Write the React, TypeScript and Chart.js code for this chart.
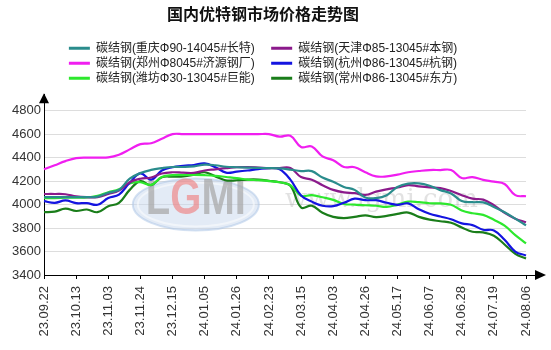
import { useEffect, useRef } from 'react';
import { Chart, registerables } from 'chart.js';

Chart.register(...registerables);

const FONT = '"Liberation Sans", "Noto Sans CJK SC", Arial, sans-serif';

const chartTitle = '国内优特钢市场价格走势图';

const tickLabels = [
  '23.09.22', '23.10.13', '23.11.03', '23.11.24', '23.12.15', '24.01.05', '24.01.26', '24.02.23',
  '24.03.15', '24.04.03', '24.04.26', '24.05.17', '24.06.07', '24.06.28', '24.07.19', '24.08.06',
];

// 46 samples: 3 per label interval
const categories = Array.from({ length: 46 }, (_, i) => (i % 3 === 0 ? tickLabels[i / 3] : ''));

const seriesNames = [
  '碳结钢(重庆Φ90-14045#长特)',
  '碳结钢(天津Φ85-13045#本钢)',
  '碳结钢(郑州Φ8045#济源钢厂)',
  '碳结钢(杭州Φ86-13045#杭钢)',
  '碳结钢(潍坊Φ30-13045#巨能)',
  '碳结钢(常州Φ86-13045#东方)',
];

const seriesColors = ['#2a8c8c', '#8b1a8b', '#f01ef0', '#1414e0', '#2de82d', '#1a7d1a'];

const chongqing = [
  4063, 4063, 4063, 4063, 4063, 4068, 4100, 4125, 4220, 4268, 4295, 4310, 4320, 4320, 4325, 4340,
  4335, 4322, 4318, 4315, 4312, 4311, 4308, 4298, 4285, 4285, 4230, 4195, 4150, 4125, 4060, 4055,
  4080, 4150, 4178, 4180, 4160, 4123, 4095, 4030, 4020, 4018, 3980, 3935, 3880, 3823,
];

const tianjin = [
  4090, 4090, 4088, 4070, 4063, 4063, 4090, 4120, 4190, 4220, 4230, 4265, 4275, 4272, 4270, 4290,
  4300, 4310, 4318, 4318, 4315, 4311, 4311, 4311, 4234, 4212, 4165, 4125, 4104, 4097, 4082, 4110,
  4130, 4145, 4166, 4155, 4146, 4140, 4115, 4080, 4050, 4042, 3994, 3930, 3880, 3849,
];

const zhengzhou = [
  4300, 4335, 4370, 4395, 4400, 4400, 4402, 4425, 4470, 4515, 4522, 4560, 4600, 4600, 4600, 4600,
  4600, 4600, 4600, 4600, 4600, 4600, 4578, 4586, 4490, 4495, 4410, 4378, 4320, 4318, 4275, 4240,
  4240, 4255, 4275, 4286, 4294, 4294, 4294, 4226, 4234, 4210, 4195, 4175, 4080, 4071,
];

const hangzhou = [
  4029, 4015, 4035, 4012, 4012, 3998, 4055, 4085, 4185, 4265, 4212, 4290, 4318, 4330, 4337, 4350,
  4318, 4272, 4280, 4290, 4302, 4311, 4300, 4212, 4078, 4025, 3990, 3986, 4015, 4050, 4037, 4037,
  4015, 3998, 4010, 3960, 3922, 3898, 3875, 3840, 3825, 3785, 3780, 3700, 3600, 3566,
];

const weifang = [
  4055, 4055, 4058, 4058, 4060, 4075, 4105, 4130, 4180, 4190, 4168, 4235, 4250, 4252, 4252, 4250,
  4245, 4235, 4225, 4213, 4207, 4200, 4190, 4165, 4075, 4080, 4062, 4040, 4005, 4000, 3994, 3990,
  3980, 4000, 4025, 4020, 4011, 4010, 3998, 3950, 3926, 3912, 3870, 3820, 3740, 3670,
];

const changzhou = [
  3935, 3940, 3965, 3945, 3958, 3935, 3985, 4015, 4125, 4200, 4166, 4232, 4238, 4240, 4255, 4275,
  4240, 4205, 4207, 4213, 4213, 4203, 4190, 4160, 3975, 3990, 3930, 3895, 3885, 3895, 3908, 3893,
  3903, 3920, 3932, 3895, 3872, 3858, 3845, 3805, 3768, 3763, 3735, 3660, 3580, 3540,
];

const seriesValues = [chongqing, tianjin, zhengzhou, hangzhou, weifang, changzhou];

const decorPlugin = {
  id: 'decor',
  beforeDatasetsDraw(chart: any) {
    const { ctx, chartArea } = chart;
    const { left, top, width: w, height: h } = chartArea;
    ctx.save();
    // watermark logo
    const cx = left + w * 0.315;
    const cy = top + h * 0.61;
    ctx.beginPath();
    ctx.ellipse(cx, cy, 63, 26, 0, 0, Math.PI * 2);
    ctx.fillStyle = 'rgba(200,216,238,0.5)';
    ctx.fill();
    ctx.lineWidth = 2;
    ctx.strokeStyle = 'rgba(170,195,230,0.5)';
    ctx.stroke();
    ctx.beginPath();
    ctx.ellipse(cx, cy, 58, 22, 0, 0, Math.PI * 2);
    ctx.lineWidth = 2;
    ctx.strokeStyle = 'rgba(255,255,255,0.5)';
    ctx.stroke();
    ctx.save();
    ctx.translate(cx, cy - 4);
    ctx.scale(1, 1.25);
    ctx.font = `bold 40px ${FONT}`;
    ctx.textBaseline = 'middle';
    ctx.textAlign = 'left';
    const letters = ['L', 'G', 'M', 'I'];
    const cols = ['rgba(165,165,165,0.7)', 'rgba(240,120,120,0.6)', 'rgba(165,165,165,0.7)', 'rgba(165,165,165,0.7)'];
    const total = letters.reduce((s, l) => s + ctx.measureText(l).width, 0);
    let x = -total / 2;
    letters.forEach((l, i) => {
      ctx.fillStyle = cols[i];
      ctx.fillText(l, x, 0);
      x += ctx.measureText(l).width;
    });
    ctx.restore();
    ctx.font = '26px "DejaVu Serif", serif';
    ctx.textAlign = 'center';
    ctx.textBaseline = 'middle';
    ctx.fillStyle = 'rgba(150,150,150,0.28)';
    ctx.fillText('www.lgmi.com', left + w * 0.7, top + h * 0.585);
    ctx.restore();
  },
  afterDraw(chart: any) {
    const { ctx, chartArea } = chart;
    const { left, right, top, bottom } = chartArea;
    ctx.save();
    ctx.fillStyle = '#000';
    ctx.strokeStyle = '#000';
    ctx.lineWidth = 1;
    // y arrow
    ctx.beginPath();
    ctx.moveTo(left, top - 1);
    ctx.lineTo(left - 5, top + 9);
    ctx.lineTo(left + 5, top + 9);
    ctx.closePath();
    ctx.fill();
    // x axis extension + arrow
    ctx.beginPath();
    ctx.moveTo(right, Math.round(bottom) + 0.5);
    ctx.lineTo(right + 10, Math.round(bottom) + 0.5);
    ctx.stroke();
    ctx.beginPath();
    ctx.moveTo(right + 20, bottom);
    ctx.lineTo(right + 9, bottom - 5);
    ctx.lineTo(right + 9, bottom + 5);
    ctx.closePath();
    ctx.fill();
    ctx.restore();
  },
};

export default function App() {
  const canvasRef = useRef<HTMLCanvasElement | null>(null);

  useEffect(() => {
    document.body.style.margin = '0';
    const canvas = canvasRef.current;
    if (!canvas) return;
    const chart = new Chart(canvas, {
      type: 'line',
      data: {
        labels: categories,
        datasets: seriesNames.map((name, i) => ({
          label: name,
          data: seriesValues[i],
          borderColor: seriesColors[i],
          backgroundColor: seriesColors[i],
          borderWidth: 2.2,
          pointRadius: 0,
          tension: 0.4,
          fill: false,
        })),
      },
      options: {
        responsive: true,
        maintainAspectRatio: false,
        animation: false,
        layout: { padding: { left: 0, right: 25, top: 0, bottom: 0 } },
        plugins: {
          title: {
            display: true,
            text: chartTitle,
            color: '#111',
            font: { family: FONT, size: 16, weight: 'bold' },
            padding: { top: 6, bottom: 14 },
          },
          legend: {
            display: true,
            position: 'top',
            labels: {
              color: '#222',
              font: { family: FONT, size: 12 },
              boxWidth: 21,
              boxHeight: 3,
              padding: 3,
              generateLabels: (c: any) => {
                const items = (Chart.defaults.plugins.legend.labels as any).generateLabels(c);
                return items.map((it: any, i: number) => ({
                  ...it,
                  text: i % 2 === 0 ? it.text + '    ' : it.text,
                  lineWidth: 0,
                  fillStyle: seriesColors[i],
                }));
              },
            },
          },
          tooltip: { enabled: false },
        },
        scales: {
          x: {
            grid: {
              drawOnChartArea: false,
              tickLength: 4,
              color: (ctx: any) => (ctx.index % 3 === 0 ? '#000' : 'rgba(0,0,0,0)'),
            },
            border: { color: '#000' },
            ticks: {
              autoSkip: false,
              maxRotation: 90,
              minRotation: 90,
              padding: 7,
              color: '#333',
              font: { family: FONT, size: 13 },
            },
            afterFit: (s: any) => {
              s.height = 75;
            },
          },
          y: {
            min: 3400,
            max: 4940,
            ticks: {
              stepSize: 200,
              padding: 3,
              color: '#333',
              font: { family: FONT, size: 13 },
              callback: (v: any) => String(v),
            },
            afterBuildTicks: (s: any) => {
              s.ticks = s.ticks.filter((t: any) => t.value <= 4800 && t.value % 200 === 0);
            },
            grid: { color: '#dddddd', drawTicks: false },
            border: { color: '#000' },
            afterFit: (s: any) => {
              s.width = 44;
            },
          },
        },
      },
      plugins: [decorPlugin],
    } as any);
    return () => chart.destroy();
  }, []);

  return (
    <div style={{ position: 'relative', width: 551, height: 350 }}>
      <canvas ref={canvasRef} />
    </div>
  );
}
